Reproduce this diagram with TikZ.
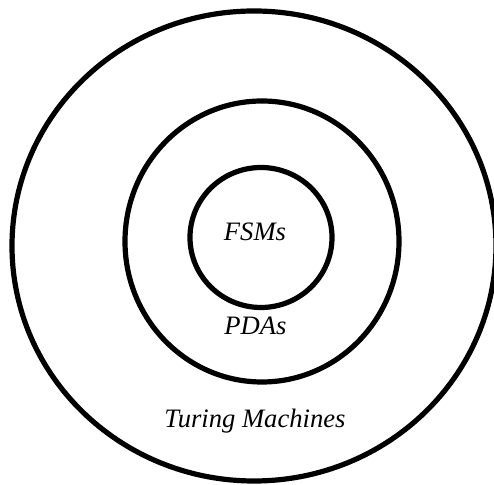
\documentclass[tikz,border=0pt]{standalone}
\usepackage{fontspec}
\setmainfont{Liberation Serif}
\tikzset{
  ring/.style={draw=black, line width=2.6pt},
  lbl/.style={font=\fontsize{13.3pt}{15pt}\selectfont\itshape, anchor=base, inner sep=0pt}
}
\begin{document}
\begin{tikzpicture}[x=0.5pt,y=-0.5pt]
  \useasboundingbox (0,0) rectangle (494,485);
  \clip (0,0) rectangle (494,485);
  \draw[ring] (254,246) ellipse [x radius=242, y radius=235];
  \draw[ring] (262,241.5) ellipse [x radius=137, y radius=140.5];
  \draw[ring] (261,237.5) ellipse [x radius=71, y radius=70];
  \node[lbl] (fsm) at (255,241) {FSMs};
  \node[lbl] (pda) at (255.5,335) {PDAs};
  \node[lbl] (tm) at (255,428) {Turing Machines};
\end{tikzpicture}
\end{document}
